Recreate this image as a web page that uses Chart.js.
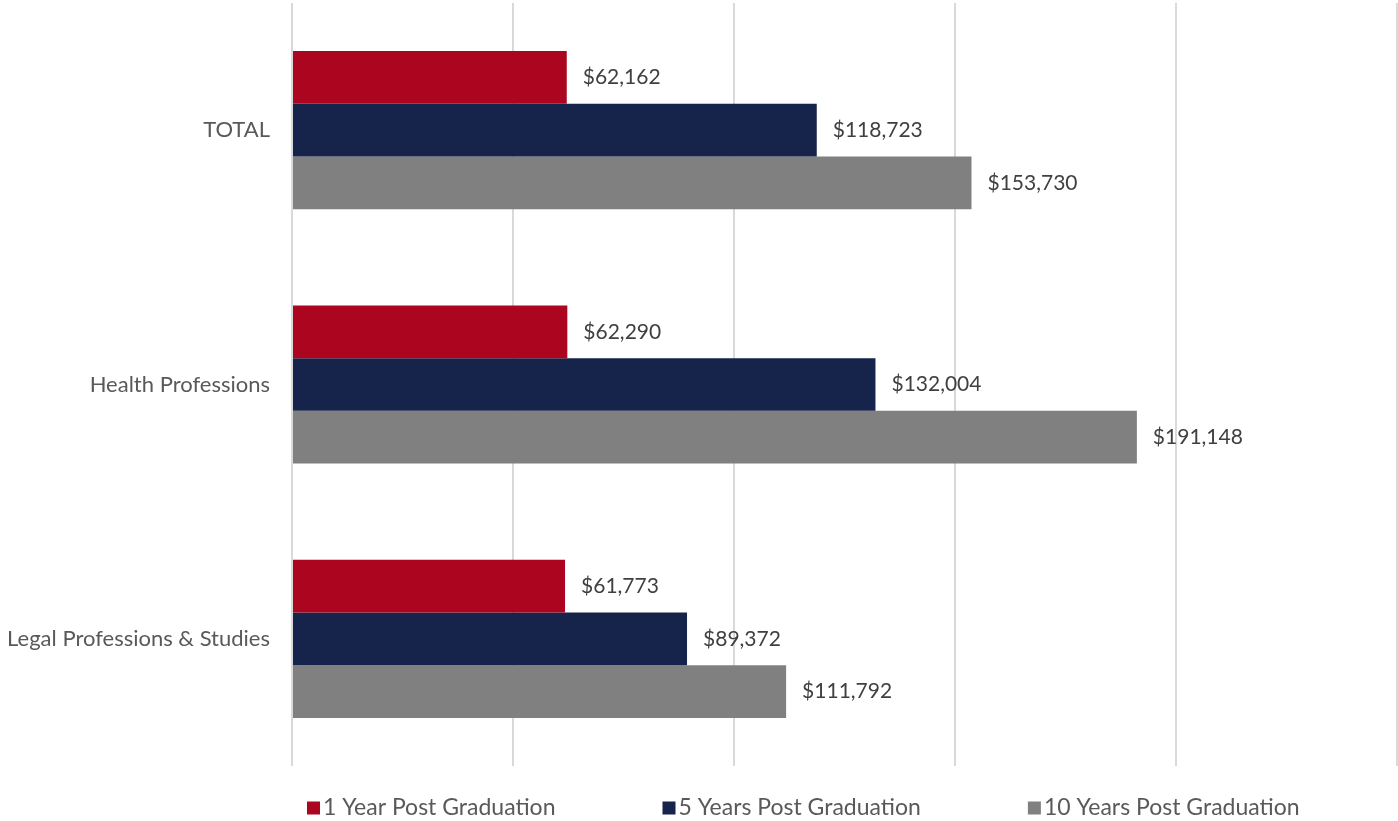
<!DOCTYPE html>
<html>
<head>
<meta charset="utf-8">
<script src="https://cdn.jsdelivr.net/npm/chart.js@4.4.1/dist/chart.umd.min.js"></script>
<style>
html,body{margin:0;padding:0;background:#fff;}
#wrap{width:1398px;height:821px;position:relative;}
</style>
</head>
<body>
<div id="wrap"><canvas id="c" width="1398" height="821"></canvas></div>
<script>
const categories = ["TOTAL", "Health Professions", "Legal Professions & Studies"];
const seriesNames = ["1 Year Post Graduation", "5 Years Post Graduation", "10 Years Post Graduation"];
const oneYear = [62162, 62290, 61773];
const fiveYears = [118723, 132004, 89372];
const tenYears = [153730, 191148, 111792];
const colors = ["#AB0520", "#16234B", "#808080"];

const FONT = "Lato, 'Open Sans', sans-serif";

const labelPlugin = {
  id: 'barLabels',
  afterDatasetsDraw(chart) {
    const ctx = chart.ctx;
    ctx.save();
    ctx.font = "21px " + FONT;
    ctx.fillStyle = "#404040";
    ctx.textAlign = "left";
    ctx.textBaseline = "middle";
    chart.data.datasets.forEach((ds, i) => {
      const meta = chart.getDatasetMeta(i);
      meta.data.forEach((bar, j) => {
        const v = ds.data[j];
        ctx.fillText("$" + v.toLocaleString("en-US"), bar.x + 16, bar.y);
      });
    });
    ctx.restore();
  }
};

const legendPlugin = {
  id: 'bottomLegend',
  afterDraw(chart) {
    const ctx = chart.ctx;
    const area = chart.chartArea;
    ctx.save();
    ctx.font = "23px " + FONT;
    ctx.textAlign = "left";
    ctx.textBaseline = "middle";
    const y = area.bottom + 42;
    let x = area.left + 15;
    const box = 13, gapBoxText = 3, gapItems = 107;
    chart.data.datasets.forEach((ds) => {
      ctx.fillStyle = ds.backgroundColor;
      ctx.fillRect(x, y - box / 2, box, box);
      ctx.fillStyle = "#595959";
      ctx.fillText(ds.label, x + box + gapBoxText, y);
      x += box + gapBoxText + ctx.measureText(ds.label).width + gapItems;
    });
    ctx.restore();
  }
};

new Chart(document.getElementById("c"), {
  type: "bar",
  data: {
    labels: categories,
    datasets: [
      { label: seriesNames[0], data: oneYear, backgroundColor: colors[0] },
      { label: seriesNames[1], data: fiveYears, backgroundColor: colors[1] },
      { label: seriesNames[2], data: tenYears, backgroundColor: colors[2] }
    ]
  },
  options: {
    indexAxis: "y",
    responsive: false,
    animation: false,
    devicePixelRatio: 1,
    layout: { autoPadding: false, padding: { top: 3, right: 1, bottom: 55, left: 0 } },
    datasets: { bar: { categoryPercentage: 0.622, barPercentage: 1.0 } },
    scales: {
      x: {
        min: 0, max: 250000,
        ticks: { display: false, stepSize: 50000 },
        grid: { color: "#d9d9d9", lineWidth: 2, drawTicks: false },
        border: { display: false },
        afterFit(scale) { scale.paddingTop = 0; scale.paddingBottom = 0; scale.paddingLeft = 0; scale.paddingRight = 0; scale.height = 0; }
      },
      y: {
        ticks: { color: "#595959", font: { family: FONT, size: 22 }, padding: 22 },
        grid: { display: false, drawTicks: false },
        border: { display: false },
        afterFit(scale) { scale.width = 292; scale.paddingTop = 0; scale.paddingBottom = 0; }
      }
    },
    plugins: {
      legend: { display: false },
      tooltip: { enabled: false }
    }
  },
  plugins: [labelPlugin, legendPlugin]
});
</script>
</body>
</html>
